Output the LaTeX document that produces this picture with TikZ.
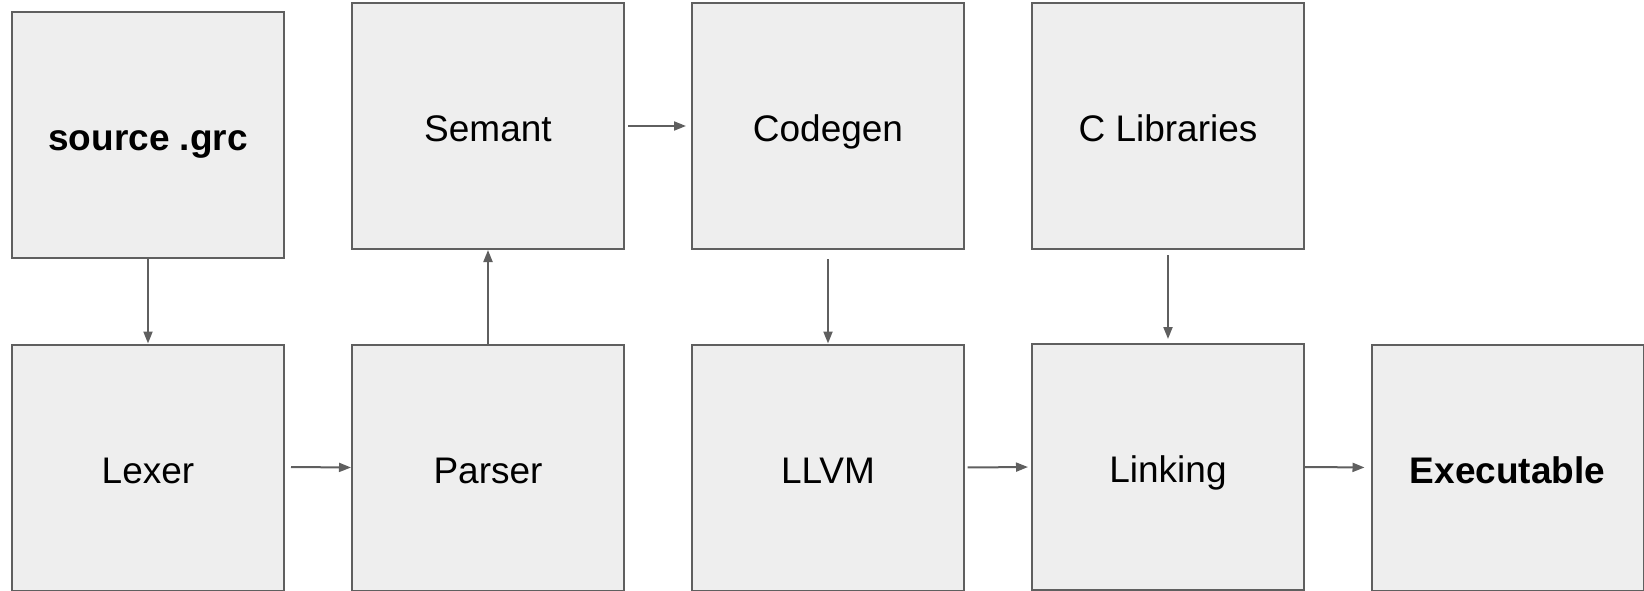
\documentclass[tikz,border=0pt]{standalone}
\usepackage{fontspec}
\setmainfont{Liberation Sans}
\usetikzlibrary{arrows.meta}
\definecolor{boxfill}{HTML}{EEEEEE}
\definecolor{boxline}{HTML}{5F5F5F}
\begin{document}
\begin{tikzpicture}[x=1pt,y=-1pt,
  stage/.style={rectangle, draw=boxline, fill=boxfill, line width=2pt,
    minimum width=272pt, minimum height=246pt, inner sep=0pt,
    text height=31pt, text depth=0pt,
    font=\fontsize{37}{44}\selectfont},
  flow/.style={draw=boxline, line width=2pt,
    -{Triangle[length=12pt,width=9pt]}}]
\useasboundingbox (0,0) rectangle (1644,591);

% upper row
\node[stage, font=\fontsize{37}{44}\selectfont\bfseries] (src) at (148,135) {source .grc};
\node[stage] (sem) at (488,126) {Semant};
\node[stage] (cod) at (828,126) {Codegen};
\node[stage] (clib) at (1168,126) {C Libraries};

% lower row
\node[stage] (lex) at (148,467.5) {Lexer};
\node[stage] (par) at (488,467.5) {Parser};
\node[stage] (llvm) at (828,467.5) {LLVM};
\node[stage] (link) at (1168,467) {Linking};
\node[stage, font=\fontsize{37}{44}\selectfont\bfseries] (exe) at (1507.5,467.5) {Executable};

% connectors
\draw[flow] (src.south) -- (lex.north);
\draw[flow] (lex.east) ++(6,-0.5) -- (par.west);
\draw[flow] (par.north) -- (sem.south);
\draw[flow, shorten <=3pt, shorten >=5pt] (sem.east) -- (cod.west);
\draw[flow, shorten <=9pt] (cod.south) -- (llvm.north);
\draw[flow, shorten <=5pt, shorten >=4pt] (clib.south) -- (link.north);
\draw[flow, shorten <=2.5pt, shorten >=3pt] (llvm.east) -- (link.west);
\draw[flow, shorten >=6pt] (link.east) -- (exe.west);
\end{tikzpicture}
\end{document}
